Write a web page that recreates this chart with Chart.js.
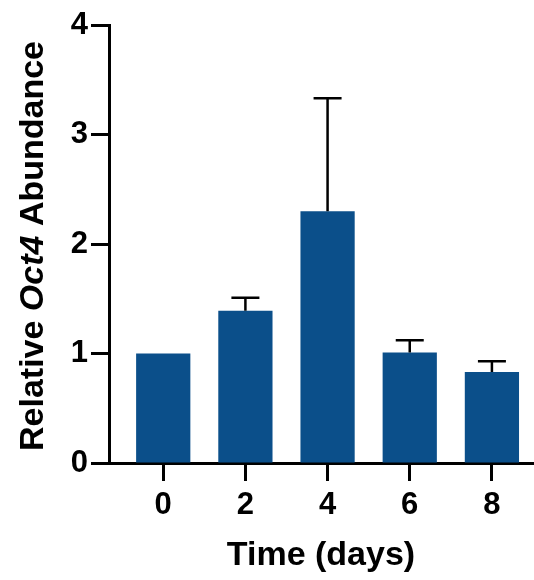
<!DOCTYPE html>
<html>
<head>
<meta charset="utf-8">
<script src="https://cdn.jsdelivr.net/npm/chart.js@4"></script>
<style>
  html, body { margin: 0; padding: 0; background: #fff; }
  #wrap { width: 534px; height: 580px; }
</style>
</head>
<body>
<div id="wrap"><canvas id="chart"></canvas></div>
<script>
// Данные графика
const days = [0, 2, 4, 6, 8];
const abundance = [1.0, 1.39, 2.30, 1.01, 0.83];
const sem = [0, 0.12, 1.03, 0.11, 0.10];
const yTicks = [0, 1, 2, 3, 4];

const barColor = '#0b4f8a';
const fontFamily = '"Liberation Sans", Arial, Helvetica, sans-serif';

// Планки погрешностей (только вверх)
const errorBarPlugin = {
  id: 'errorBars',
  afterDatasetsDraw(chart) {
    const { ctx, scales: { y } } = chart;
    const meta = chart.getDatasetMeta(0);
    ctx.save();
    ctx.strokeStyle = '#000';
    ctx.lineWidth = 2.5;
    meta.data.forEach((bar, i) => {
      if (!sem[i]) return;
      const yTop = y.getPixelForValue(abundance[i] + sem[i]);
      ctx.beginPath();
      ctx.moveTo(bar.x, bar.y);
      ctx.lineTo(bar.x, yTop);
      ctx.moveTo(bar.x - 14, yTop);
      ctx.lineTo(bar.x + 14, yTop);
      ctx.stroke();
    });
    ctx.restore();
  },
};

// Заголовок оси Y со смешанным начертанием (Oct4 курсивом)
const yTitlePlugin = {
  id: 'yTitle',
  afterDraw(chart) {
    const { ctx, chartArea } = chart;
    const parts = [
      { text: 'Relative ', font: `bold 34px ${fontFamily}` },
      { text: 'Oct4', font: `italic bold 34px ${fontFamily}` },
      { text: ' Abundance', font: `bold 34px ${fontFamily}` },
    ];
    ctx.save();
    let total = 0;
    parts.forEach((p) => {
      ctx.font = p.font;
      p.w = ctx.measureText(p.text).width;
      total += p.w;
    });
    ctx.translate(43, (chartArea.top + chartArea.bottom) / 2 + 2);
    ctx.rotate(-Math.PI / 2);
    ctx.fillStyle = '#000';
    ctx.textBaseline = 'alphabetic';
    let x = -total / 2;
    parts.forEach((p) => {
      ctx.font = p.font;
      ctx.fillText(p.text, x, 0);
      x += p.w;
    });
    ctx.restore();
  },
};

const ctx = document.getElementById('chart').getContext('2d');
new Chart(ctx, {
  type: 'bar',
  data: {
    datasets: [{
      data: days.map((d, i) => ({ x: d, y: abundance[i] })),
      backgroundColor: barColor,
      borderWidth: 0,
      barPercentage: 0.66,
      categoryPercentage: 1,
    }],
  },
  options: {
    animation: false,
    responsive: true,
    maintainAspectRatio: false,
    layout: { padding: { top: 25, right: 1, left: 0, bottom: 0 } },
    plugins: {
      legend: { display: false },
      tooltip: { enabled: false },
    },
    scales: {
      x: {
        type: 'linear',
        min: -1.32,
        max: 9,
        offset: false,
        afterBuildTicks: (scale) => { scale.ticks = days.map((v) => ({ value: v })); },
        afterFit: (scale) => { scale.height = 117; },
        grid: { offset: false, drawOnChartArea: false, drawTicks: true, tickLength: 18, tickWidth: 3, tickColor: '#000' },
        border: { display: true, width: 3, color: '#000' },
        ticks: { color: '#000', font: { family: fontFamily, size: 31, weight: 'bold' }, padding: 6, maxRotation: 0 },
        title: {
          display: true,
          text: 'Time (days)',
          color: '#000',
          font: { family: fontFamily, size: 34, weight: 'bold' },
          padding: { top: 0, bottom: 4 },
        },
      },
      y: {
        min: 0,
        max: 4,
        afterBuildTicks: (scale) => { scale.ticks = yTicks.map((v) => ({ value: v })); },
        afterFit: (scale) => { scale.width = 109; },
        grid: { drawOnChartArea: false, drawTicks: true, tickLength: 18, tickWidth: 3, tickColor: '#000' },
        border: { display: true, width: 3, color: '#000' },
        ticks: { color: '#000', font: { family: fontFamily, size: 31, weight: 'bold' }, padding: 3 },
      },
    },
  },
  plugins: [errorBarPlugin, yTitlePlugin],
});
</script>
</body>
</html>
